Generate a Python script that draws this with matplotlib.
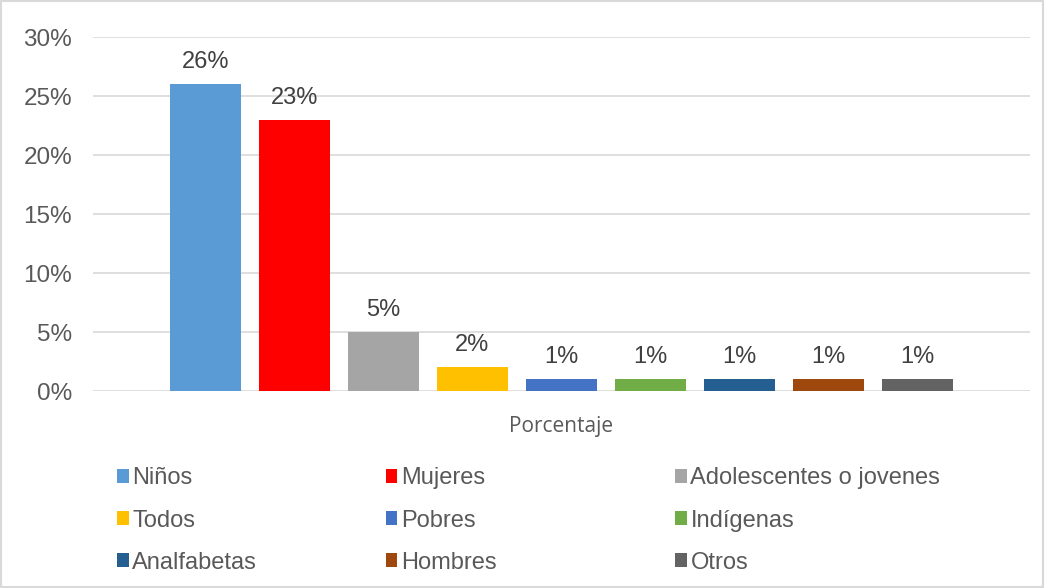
import matplotlib.pyplot as plt
from matplotlib.patches import Patch, Rectangle
from matplotlib.ticker import PercentFormatter

categories = ["Niños", "Mujeres", "Adolescentes o jovenes", "Todos", "Pobres",
              "Indígenas", "Analfabetas", "Hombres", "Otros"]
values = [26, 23, 5, 2, 1, 1, 1, 1, 1]
colors = ["#5B9BD5", "#FF0000", "#A5A5A5", "#FFC000", "#4472C4",
          "#70AD47", "#255E91", "#9E480E", "#636363"]
y_ticks = [0, 5, 10, 15, 20, 25, 30]
x_label = "Porcentaje"

plt.rcParams["font.family"] = ["Liberation Sans", "DejaVu Sans"]

fig = plt.figure(figsize=(10.45, 5.88), dpi=100)
ax = fig.add_axes([0.089, 0.335, 0.8966, 0.602])

xs = list(range(len(values)))
bars = ax.bar(xs, values, width=0.8, color=colors, zorder=3)
ax.bar_label(bars, labels=[f"{v}%" for v in values], padding=8,
             fontsize=17, color="#404040")

ax.set_ylim(0, 30)
ax.set_xlim(-1.264, 9.264)
ax.set_yticks(y_ticks)
ax.yaxis.set_major_formatter(PercentFormatter(decimals=0))
ax.tick_params(axis="y", length=0, pad=15, labelsize=17.5, labelcolor="#595959")
ax.set_xticks([])
ax.grid(axis="y", color="#D9D9D9", linewidth=1.2, zorder=0)
for s in ax.spines.values():
    s.set_visible(False)
ax.set_xlabel(x_label, fontsize=15, color="#595959", family="Open Sans",
              labelpad=18)

# legend: three columns, placed separately to match spacing
col_x = [0.112, 0.369, 0.646]
for c in range(3):
    idx = [c, c + 3, c + 6]
    handles = [Patch(facecolor=colors[i]) for i in idx]
    labels = [categories[i] for i in idx]
    fig.legend(handles, labels, loc="upper left", bbox_to_anchor=(col_x[c], 0.205),
               frameon=False, fontsize=17, labelcolor="#595959",
               handlelength=0.5, handleheight=0.5, handletextpad=0.15,
               labelspacing=0.85, borderaxespad=0, borderpad=0)

fig.patches.append(Rectangle((0.001, 0.001), 0.997, 0.997, transform=fig.transFigure,
                             fill=False, edgecolor="#D9D9D9", linewidth=1.5))

fig.savefig("out.png", dpi=100)
